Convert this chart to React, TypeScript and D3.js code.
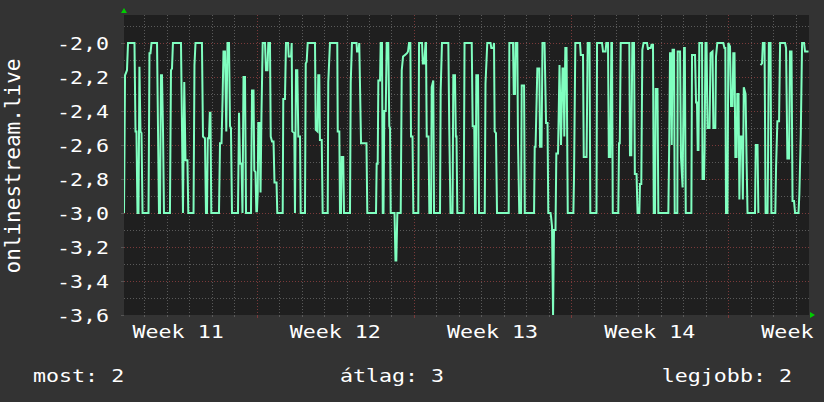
import React from "react";
import * as d3 from "d3";

// ---- data (hours since start of Week 11, value) ----
const series: [number, number | null][] = [
  [26.2, -3.0], [27.3, -2.19], [29.4, -2.16], [30.5, -2.0], [37.4, -2.0], [38.5, -2.52], [39.5, -2.52], [40.6, -3.0],
  [41.7, -3.0], [42.7, -2.14], [43.8, -2.52], [44.9, -2.53], [46.0, -3.0], [52.4, -3.0], [53.4, -2.06], [54.5, -2.06],
  [55.6, -2.0], [61.5, -2.0], [62.5, -2.49], [63.6, -3.0], [64.7, -3.0], [65.7, -2.19], [66.8, -2.19], [67.9, -2.52],
  [68.9, -3.0], [75.3, -3.0], [76.4, -2.16], [77.5, -2.15], [78.5, -2.0], [87.1, -2.0], [88.2, -2.51], [89.2, -3.0],
  [90.6, -2.23], [91.9, -2.69], [94.0, -2.69], [94.9, -3.0], [100.5, -3.0], [101.5, -2.13], [102.6, -2.0], [109.5, -2.0],
  [110.6, -2.55], [112.7, -2.56], [113.8, -3.0], [114.9, -3.0], [115.7, -2.56], [117.0, -2.56], [117.9, -2.41], [118.6, -2.41],
  [119.5, -3.0], [127.7, -3.0], [128.8, -2.59], [130.4, -2.59], [131.5, -2.34], [132.5, -2.05], [134.1, -2.05], [135.5, -2.52],
  [136.8, -2.0], [138.4, -2.0], [139.5, -2.49], [140.5, -2.5], [141.6, -3.0], [148.0, -3.0], [149.1, -2.41], [150.2, -2.71],
  [151.8, -2.71], [152.8, -3.0], [153.9, -2.2], [155.5, -2.2], [156.6, -3.0], [161.9, -3.0], [163.0, -2.28], [164.6, -2.28],
  [165.4, -2.75], [166.7, -2.76], [167.6, -2.99], [168.3, -2.99], [169.1, -2.88], [169.7, -2.47], [171.0, -2.47], [172.1, -2.88],
  [173.1, -2.42], [174.4, -2.0], [176.9, -2.0], [177.9, -2.16], [179.5, -2.16], [180.4, -2.0], [182.2, -2.0], [183.0, -2.55],
  [184.4, -2.58], [186.0, -2.58], [187.0, -2.82], [189.2, -2.82], [190.0, -3.0], [195.8, -3.0], [196.4, -2.33], [198.2, -2.33],
  [199.3, -2.0], [201.5, -2.0], [202.2, -2.08], [204.7, -2.08], [205.4, -2.0], [206.0, -2.52], [208.2, -2.53], [208.9, -3.0],
  [210.0, -2.16], [211.4, -2.16], [212.5, -2.55], [214.3, -2.55], [215.0, -3.0], [219.6, -3.0], [220.4, -2.12], [221.4, -2.11],
  [222.5, -2.0], [230.3, -2.0], [231.1, -2.51], [233.0, -2.52], [233.8, -2.19], [234.9, -2.19], [235.6, -2.57], [237.5, -2.57],
  [238.5, -3.0], [243.9, -3.0], [244.5, -2.23], [246.3, -2.0], [254.1, -2.0], [254.6, -2.52], [256.3, -2.52], [257.0, -3.0],
  [258.1, -3.0], [258.8, -2.67], [260.5, -2.67], [261.3, -3.0], [267.7, -3.0], [268.5, -2.23], [269.8, -2.0], [274.7, -2.0],
  [275.2, -2.05], [276.8, -2.05], [277.6, -2.0], [279.5, -2.59], [285.3, -2.59], [286.2, -3.0], [295.5, -3.0], [296.2, -2.71],
  [297.3, -2.71], [298.0, -2.22], [299.8, -2.22], [300.5, -2.0], [301.9, -2.0], [302.7, -3.0], [303.5, -3.0], [304.4, -2.4],
  [305.9, -2.4], [306.9, -2.0], [308.6, -2.0], [309.7, -2.49], [310.5, -2.5], [311.2, -3.0], [315.3, -3.0], [316.3, -3.28],
  [317.2, -3.28], [318.3, -3.0], [321.9, -3.0], [323.0, -2.16], [324.4, -2.08], [326.5, -2.07], [328.6, -2.06], [329.7, -2.05],
  [330.8, -2.0], [332.2, -2.0], [332.9, -2.55], [334.5, -2.55], [335.4, -3.0], [340.7, -3.0], [341.5, -2.0], [344.7, -2.0],
  [345.5, -2.12], [347.1, -2.12], [348.4, -2.0], [348.9, -2.0], [349.7, -2.55], [351.6, -2.55], [352.5, -3.0], [354.3, -3.0],
  [355.0, -2.26], [356.7, -2.22], [357.5, -3.0], [363.9, -3.0], [364.6, -2.28], [366.0, -2.0], [372.8, -2.0], [373.8, -2.51],
  [375.1, -3.0], [377.3, -3.0], [378.1, -2.19], [379.9, -2.19], [380.8, -2.55], [381.5, -2.55], [382.4, -3.0], [389.2, -3.0],
  [390.1, -2.0], [397.8, -2.0], [398.8, -2.49], [400.5, -2.49], [401.3, -3.0], [402.0, -3.0], [402.7, -2.19], [404.5, -2.19],
  [405.6, -3.0], [411.7, -3.0], [412.5, -2.24], [414.4, -2.0], [417.9, -2.0], [418.7, -2.03], [420.9, -2.03], [421.6, -2.0],
  [422.3, -2.52], [423.7, -2.53], [424.8, -3.0], [437.3, -3.0], [438.0, -2.0], [441.9, -2.0], [442.7, -2.3], [444.0, -2.3],
  [444.6, -2.0], [446.5, -2.0], [447.2, -2.57], [448.6, -3.0], [450.5, -3.0], [451.2, -2.25], [453.7, -2.25], [454.5, -3.0],
  [464.4, -3.0], [465.1, -2.61], [466.0, -2.61], [467.9, -2.15], [470.0, -2.15], [470.8, -2.61], [472.4, -2.61], [473.4, -2.0],
  [475.6, -2.0], [477.2, -2.47], [478.8, -2.47], [479.6, -3.0], [482.0, -3.0], [482.5, -3.02], [483.6, -3.08], [484.7, -3.6],
  [485.7, -3.1], [487.3, -3.1], [488.2, -2.65], [490.0, -2.65], [491.6, -2.13], [493.2, -2.6], [494.8, -2.15], [495.9, -2.15],
  [496.7, -2.55], [497.8, -2.03], [499.1, -2.03], [500.4, -3.0], [506.4, -3.0], [507.1, -2.79], [508.5, -2.0], [513.5, -2.0],
  [514.3, -2.07], [516.7, -2.07], [517.5, -2.67], [520.5, -2.67], [521.7, -2.0], [523.7, -2.0], [524.5, -3.0], [531.1, -3.0],
  [531.7, -2.0], [537.0, -2.0], [538.1, -2.05], [540.8, -2.05], [541.6, -2.0], [543.4, -2.0], [544.3, -2.67], [545.9, -2.67],
  [547.0, -2.0], [547.7, -2.0], [548.5, -3.0], [554.4, -3.0], [555.2, -2.59], [556.0, -2.59], [557.0, -2.0], [566.2, -2.0],
  [566.9, -2.66], [568.3, -2.66], [569.4, -2.0], [571.2, -2.0], [572.1, -2.77], [573.9, -2.77], [575.0, -3.0], [576.9, -3.0],
  [577.6, -2.83], [579.0, -2.83], [580.1, -2.04], [581.4, -2.0], [585.1, -2.0], [586.2, -2.04], [586.7, -2.03], [589.1, -2.03],
  [589.9, -2.01], [591.5, -2.01], [592.3, -3.0], [593.7, -3.0], [594.4, -2.27], [596.3, -2.27], [597.2, -3.0], [607.9, -3.0],
  [608.9, -2.55], [609.7, -2.06], [610.8, -2.06], [611.5, -2.6], [612.4, -2.04], [614.0, -2.04], [614.7, -3.0], [617.5, -3.0],
  [617.9, -2.05], [620.4, -2.05], [621.4, -2.67], [623.1, -2.85], [624.7, -2.03], [625.5, -2.03], [626.5, -3.0], [632.5, -3.0],
  [633.2, -2.07], [636.4, -2.07], [637.5, -2.35], [638.5, -2.35], [639.3, -2.63], [640.1, -2.63], [641.0, -2.0], [643.9, -2.0],
  [644.4, -2.8], [646.0, -2.8], [646.6, -2.63], [647.6, -2.0], [648.7, -2.0], [649.8, -2.5], [651.9, -2.5], [653.0, -2.06],
  [655.1, -2.05], [656.0, -2.5], [658.1, -2.5], [658.8, -2.08], [660.2, -2.0], [666.6, -2.0], [667.9, -2.03], [668.8, -2.03],
  [669.5, -3.0], [671.1, -3.0], [672.0, -2.0], [673.8, -2.02], [674.9, -2.37], [676.5, -2.37], [677.3, -2.06], [678.6, -2.06],
  [679.5, -2.67], [680.8, -2.67], [681.6, -2.3], [682.9, -2.3], [683.8, -2.92], [684.8, -2.55], [686.6, -2.55], [687.5, -2.92],
  [688.5, -2.26], [690.4, -2.3], [691.4, -2.66], [692.5, -3.0], [700.5, -3.0], [701.3, -2.6], [703.2, -2.6], [704.1, -3.0],
  [705.2, null],
  [706.4, -2.13], [708.0, -2.12], [708.9, -2.0], [710.7, -2.0], [711.8, -3.0], [713.9, -3.0], [714.4, -2.71], [715.3, -2.0],
  [717.1, -2.0], [718.0, -3.0], [722.2, -3.0], [723.0, -2.73], [724.4, -2.46], [726.2, -2.46], [727.3, -2.0], [732.6, -2.0],
  [733.7, -2.03], [735.1, -2.68], [736.9, -2.68], [737.9, -2.05], [739.5, -2.05], [740.6, -2.93], [742.2, -2.93], [743.3, -3.0],
  [747.0, -3.0], [747.9, -2.89], [749.4, -2.54], [750.8, -2.0], [752.9, -2.0], [754.0, -2.05], [757.7, -2.05],
];

const timeDomain: [number, number] = [26.2, 758.2];
const valueDomain: [number, number] = [-3.6, -2.0];
const weekStarts = [0, 168, 336, 504, 672, 840];
const weekLabels = ["Week 11", "Week 12", "Week 13", "Week 14", "Week 15"];
const dayStep = 24;
const yLabelValues = [-2.0, -2.2, -2.4, -2.6, -2.8, -3.0, -3.2, -3.4, -3.6];
const yMinorValues = [-1.9, -2.1, -2.3, -2.5, -2.7, -2.9, -3.1, -3.3, -3.5];
const axisTitle = "onlinestream.live";
const legendItems = ["most: 2", "átlag: 3", "legjobb: 2"];

// ---- layout ----
const W = 824;
const H = 402;
const plot = { left: 124, right: 809, top: 15, bottom: 315 };
const FONT = "'DejaVu Sans Mono', monospace";
const SX = 1.17;
const FS = 18.5;
const CHAR_W = FS * 0.602 * SX;

const COLORS = {
  back: "#333333",
  canvas: "#1f1f1f",
  minor: "#5a5a5a",
  major: "#7a3a3a",
  line: "#80ffc0",
  text: "#ffffff",
  arrow: "#00cc00",
};

function SText(props: { x: number; y: number; anchor: string; size: number; children: React.ReactNode; rotate?: number; sx?: number }) {
  const { x, y, anchor, size, children, rotate } = props;
  const sx = props.sx ?? SX;
  const tr = rotate ? `translate(${x},${y}) rotate(${rotate}) scale(1,${sx})` : `translate(${x},${y}) scale(${sx},1)`;
  return (
    <text transform={tr} textAnchor={anchor as any} fontFamily={FONT} fontSize={size} fill={COLORS.text}>
      {children}
    </text>
  );
}

export default function App() {
  const x = d3.scaleLinear().domain(timeDomain).range([plot.left, plot.right]);
  const y = d3.scaleLinear().domain(valueDomain).range([plot.bottom, 43]);

  const line = d3
    .line<[number, number | null]>()
    .defined((d) => d[1] !== null)
    .x((d) => x(d[0]))
    .y((d) => y(d[1] as number));

  const days: number[] = [];
  for (let h = Math.ceil(timeDomain[0] / dayStep) * dayStep; h <= timeDomain[1]; h += dayStep) days.push(h);
  const fmt = (v: number) => d3.format(".1f")(v).replace(".", ",").replace("−", "-");

  const weekLabelEls = weekLabels.map((lab, i) => {
    const cx = x((weekStarts[i] + weekStarts[i + 1]) / 2);
    const full = lab.length * CHAR_W;
    const startX = cx - full / 2;
    if (startX + full > W) {
      // only the part that fits on the canvas is shown (first word)
      const shown = lab.split(" ")[0];
      return (
        <SText key={lab} x={startX} y={338} anchor="start" size={FS}>{shown}</SText>
      );
    }
    return (
      <SText key={lab} x={cx} y={338} anchor="middle" size={FS}>{lab}</SText>
    );
  });

  return (
    <svg width={W} height={H} style={{ position: "absolute", left: 0, top: 0 }}>
      <rect x={0} y={0} width={W} height={H} fill={COLORS.back} />
      <rect x={plot.left} y={plot.top} width={plot.right - plot.left} height={plot.bottom - plot.top} fill={COLORS.canvas} />
      <clipPath id="plotclip">
        <rect x={plot.left} y={plot.top} width={plot.right - plot.left} height={plot.bottom - plot.top + 1} />
      </clipPath>
      {/* minor horizontal */}
      {yMinorValues.map((v) => (
        <line key={"hm" + v} x1={plot.left} x2={plot.right} y1={Math.round(y(v)) + 0.5} y2={Math.round(y(v)) + 0.5}
          stroke={COLORS.minor} strokeDasharray="1,2" />
      ))}
      {/* vertical day lines */}
      {days.filter((h) => h % 168 !== 0).map((h) => (
        <g key={"d" + h}>
          <line x1={Math.round(x(h)) + 0.5} x2={Math.round(x(h)) + 0.5} y1={plot.top} y2={plot.bottom}
            stroke={COLORS.minor} strokeDasharray="1,2" />
          <line x1={Math.round(x(h)) + 0.5} x2={Math.round(x(h)) + 0.5} y1={plot.bottom} y2={plot.bottom + 2} stroke={COLORS.minor} />
        </g>
      ))}
      {/* major horizontal */}
      {yLabelValues.slice(0, -1).map((v) => (
        <line key={"hM" + v} x1={plot.left} x2={plot.right} y1={Math.round(y(v)) + 0.5} y2={Math.round(y(v)) + 0.5}
          stroke={COLORS.major} strokeDasharray="1,2" />
      ))}
      {/* major vertical */}
      {weekStarts.filter((h) => h > timeDomain[0] && h < timeDomain[1]).map((h) => (
        <g key={"w" + h}>
          <line x1={Math.round(x(h)) + 0.5} x2={Math.round(x(h)) + 0.5} y1={plot.top} y2={plot.bottom}
            stroke={COLORS.major} strokeDasharray="1,2" />
          <line x1={Math.round(x(h)) + 0.5} x2={Math.round(x(h)) + 0.5} y1={plot.bottom} y2={plot.bottom + 3} stroke={COLORS.major} />
        </g>
      ))}
      {/* y ticks */}
      {yLabelValues.map((v) => (
        <line key={"yt" + v} x1={plot.left - 3} x2={plot.left} y1={Math.round(y(v)) + 0.5} y2={Math.round(y(v)) + 0.5} stroke="#555" />
      ))}
      {/* data line */}
      <path d={line(series) || ""} fill="none" stroke={COLORS.line} strokeWidth={2} strokeLinejoin="miter" clipPath="url(#plotclip)" />
      {/* arrows */}
      <path d={`M${plot.left - 3},${plot.top - 2} L${plot.left + 3},${plot.top - 2} L${plot.left},${plot.top - 7} Z`} fill={COLORS.arrow} />
      <path d={`M${plot.right + 1},${plot.bottom - 3} L${plot.right + 1},${plot.bottom + 3} L${plot.right + 6},${plot.bottom} Z`} fill={COLORS.arrow} />
      {/* y labels */}
      {yLabelValues.map((v) => (
        <SText key={"yl" + v} x={109} y={y(v) + 7} anchor="end" size={FS}>{fmt(v)}</SText>
      ))}
      {/* x labels */}
      {weekLabelEls}
      {/* axis title */}
      <SText x={20} y={166} anchor="middle" size={21} rotate={-90} sx={1}>{axisTitle}</SText>
      {/* legend */}
      <SText x={33} y={382} anchor="start" size={FS}>{legendItems[0]}</SText>
      <SText x={392} y={382} anchor="middle" size={FS}>{legendItems[1]}</SText>
      <SText x={792} y={382} anchor="end" size={FS}>{legendItems[2]}</SText>
    </svg>
  );
}
